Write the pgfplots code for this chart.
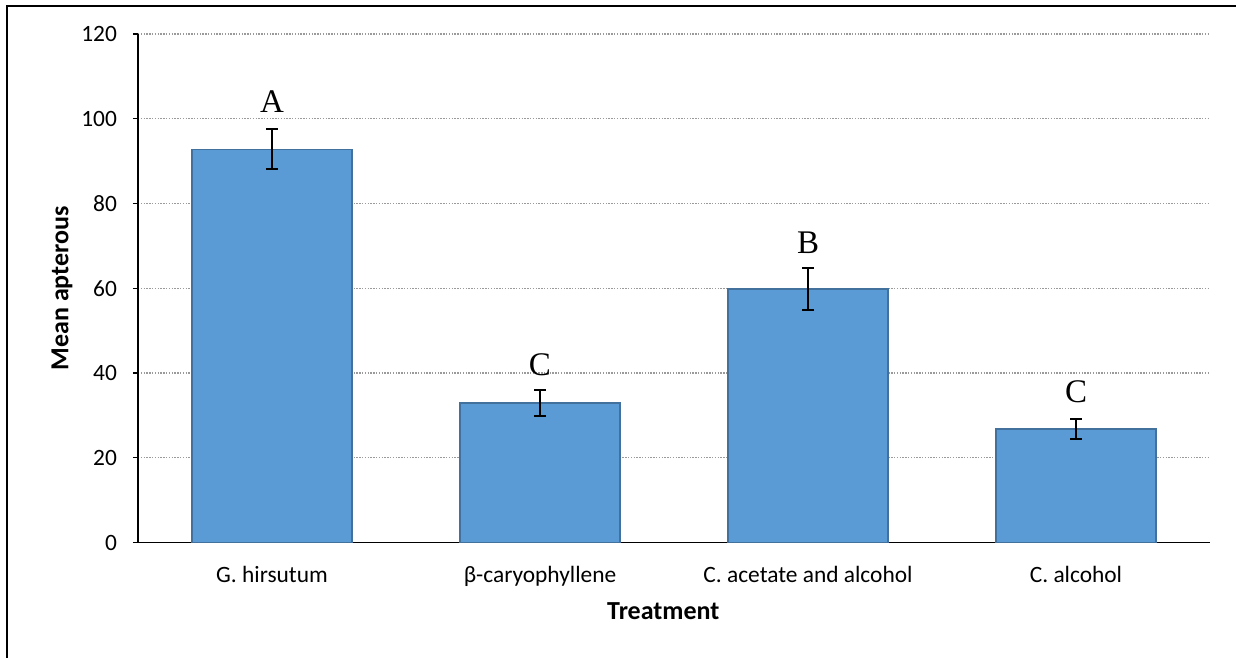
\documentclass[border=0pt]{standalone}
\usepackage{pgfplots}
\pgfplotsset{compat=1.18}
\usepackage{fontspec}
\setmainfont{Carlito}
\newfontfamily\letterfont{Liberation Serif}
\definecolor{barfill}{HTML}{5B9BD5}
\definecolor{baredge}{HTML}{41719C}
\definecolor{gridc}{HTML}{9A9A9A}
\begin{document}
\begin{tikzpicture}
\useasboundingbox (0,0) rectangle (618pt,329pt);
\draw[line width=1.1pt] (3.5pt,0pt) -- (3.5pt,326pt) -- (618pt,326pt);
\begin{axis}[
  at={(69pt,57.75pt)}, anchor=south west,
  width=536pt, height=254.25pt, scale only axis,
  xmin=-0.5, xmax=3.5, ymin=0, ymax=120,
  ytick={0,20,40,60,80,100,120},
  xtick={0,1,2,3},
  xticklabels={G. hirsutum, β-caryophyllene, C. acetate and alcohol, C. alcohol},
  axis x line*=bottom, axis y line*=left,
  axis line style={-, line width=0.7pt, black},
  tick align=outside,
  major tick length=2.5pt,
  xtick style={draw=none},
  ytick style={line width=0.7pt, black},
  ymajorgrids,
  grid style={gridc, line width=0.7pt, dash pattern=on 0.7pt off 0.7pt},
  /pgf/number format/assume math mode=true,
  ticklabel style={font=\fontsize{11.7}{13}\selectfont},
  xticklabel style={yshift=-6pt},
  yticklabel style={xshift=-4.5pt},
  xlabel={\textbf{Treatment}},
  ylabel={\textbf{Mean apterous}},
  label style={font=\fontsize{13}{15}\selectfont},
  xlabel style={at={(axis description cs:0.49,0)}, anchor=base, yshift=-38.75pt},
  ylabel style={at={(axis description cs:-0.0709,0.5)}, anchor=center},
  ybar, bar width=80pt,
  clip=false,
]
\addplot[fill=barfill, draw=baredge, line width=0.6pt,
  error bars/.cd, y dir=both, y explicit,
  error bar style={line width=1pt, black},
  error mark options={rotate=90, mark size=3pt, line width=1pt, black}]
  coordinates {
    (0,92.8) +- (0,4.7)
    (1,32.9) +- (0,3.0)
    (2,59.8) +- (0,5.0)
    (3,26.8) +- (0,2.4)
  };
\node[anchor=base, font=\letterfont\fontsize{16.5}{18}\selectfont] at (axis cs:0,101.4) {A};
\node[anchor=base, font=\letterfont\fontsize{16.5}{18}\selectfont] at (axis cs:1,39.4) {C};
\node[anchor=base, font=\letterfont\fontsize{16.5}{18}\selectfont] at (axis cs:2,68.2) {B};
\node[anchor=base, font=\letterfont\fontsize{16.5}{18}\selectfont] at (axis cs:3,33.0) {C};
\end{axis}
\end{tikzpicture}
\end{document}
